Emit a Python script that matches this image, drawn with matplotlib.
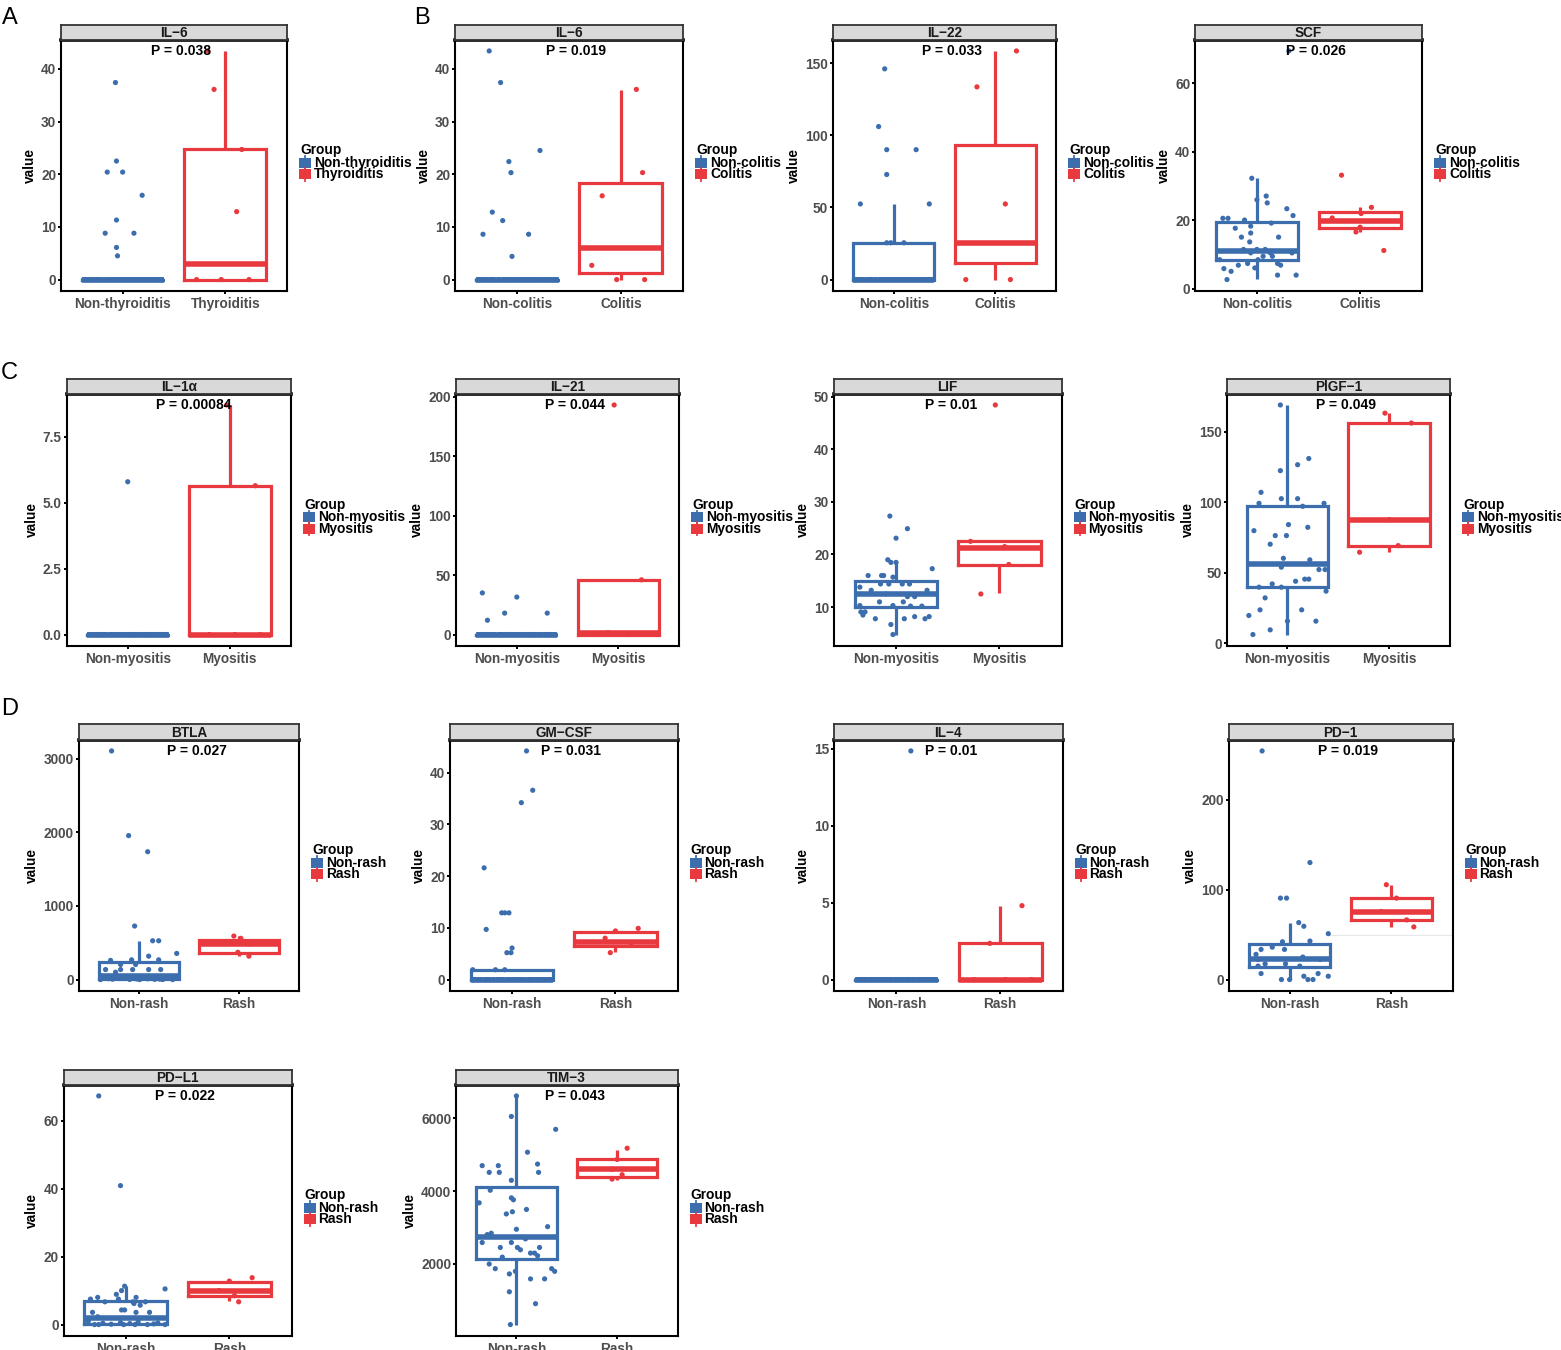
import matplotlib
matplotlib.use("Agg")
import matplotlib.pyplot as plt
from matplotlib.patches import Rectangle
from matplotlib.lines import Line2D

plt.rcParams['font.family'] = ['Liberation Sans', 'DejaVu Sans']

W, H = 1561, 1350
BLUE = "#3C6EAE"
RED = "#E8393F"
TICK_GRAY = "#4D4D4D"
STRIP_FILL = "#D9D9D9"

# ---------------- data ----------------
GROUPS_THY = ["Non-thyroiditis", "Thyroiditis"]
GROUPS_COL = ["Non-colitis", "Colitis"]
GROUPS_MYO = ["Non-myositis", "Myositis"]
GROUPS_RASH = ["Non-rash", "Rash"]

# hand-read horizontal jitter of the points sitting at zero inside collapsed boxes
ZERO_JIT = [-0.36, 0.12, -0.05, 0.31, -0.22, 0.04, 0.27, -0.14, 0.38, -0.30,
            0.09, -0.02, 0.21, -0.26, 0.16, -0.09, 0.34, -0.38, 0.01, 0.24,
            -0.18, 0.07, -0.33, 0.29, -0.11, 0.18, -0.24, 0.36, -0.06, 0.13,
            -0.29, 0.22, -0.16, 0.03, 0.32, -0.20, 0.10, -0.35, 0.26, -0.01]

# A  IL-6 (thyroiditis)
A_IL6_NON = [37.4, 22.5, 20.4, 20.4, 16.0, 11.3, 8.8, 8.8, 6.1, 4.5] + [0.0] * 30
A_IL6_NON_J = [-0.07, -0.06, -0.15, 0.00, 0.19, -0.06, -0.17, 0.11, -0.06, -0.05]
A_IL6_DIS = [43.4, 36.1, 24.7, 12.9, 0.0, 0.0, 0.0]
A_IL6_DIS_J = [-0.17, -0.11, 0.16, 0.11, -0.28, -0.04, 0.23]
A_IL6_BOX_NON = [0, 0, 0, 0, 0]          # q1, median, q3, whisker low, whisker high
A_IL6_BOX_DIS = [0, 3.0, 24.7, 0, 43.4]
A_IL6_TICKS = [0, 10, 20, 30, 40]

# B  IL-6 (colitis)
B_IL6_NON = [43.4, 37.4, 24.5, 22.4, 20.3, 12.8, 11.2, 8.6, 8.6, 4.4] + [0.0] * 30
B_IL6_NON_J = [-0.27, -0.16, 0.22, -0.08, -0.06, -0.24, -0.14, -0.33, 0.11, -0.05]
B_IL6_DIS = [36.1, 20.3, 15.9, 2.7, 0.0, 0.0]
B_IL6_DIS_J = [0.15, 0.21, -0.18, -0.28, -0.04, 0.23]
B_IL6_BOX_NON = [0, 0, 0, 0, 0]
B_IL6_BOX_DIS = [1.2, 6.0, 18.3, 0, 36.0]
B_IL6_TICKS = [0, 10, 20, 30, 40]

# B  IL-22
B_IL22_NON = [146, 106, 90, 90, 72.8, 52.4, 52.4, 25.5, 25.5, 25.5] + [0.0] * 30
B_IL22_NON_J = [-0.09, -0.15, -0.07, 0.22, -0.07, -0.33, 0.35, -0.07, -0.03, 0.10]
B_IL22_DIS = [158.4, 133.5, 52.4, 0.0, 0.0]
B_IL22_DIS_J = [0.21, -0.18, 0.10, -0.29, 0.15]
B_IL22_BOX_NON = [0, 0, 25.5, 0, 52.4]
B_IL22_BOX_DIS = [11.6, 25.5, 93.2, 0, 158.4]
B_IL22_TICKS = [0, 50, 100, 150]

# B  SCF
B_SCF_NON = [69.5, 32.3, 27.1, 26.0, 25.1, 23.4, 21.4, 20.6, 20.6, 20.1, 19.2, 18.3,
             17.7, 16.3, 15.1, 15.1, 13.7, 11.5, 11.5, 11.5, 10.5, 10.5, 10.5, 9.5,
             9.5, 8.5, 8.5, 7.4, 7.4, 6.9, 6.9, 6.1, 5.9, 5.1, 4.0, 4.0, 2.7]
B_SCF_NON_J = [0.31, -0.05, 0.09, 0.00, 0.10, 0.29, 0.35, -0.33, -0.28, -0.12, 0.14, -0.06,
               -0.21, -0.06, -0.15, 0.21, -0.07, -0.13, 0.00, 0.08, -0.06, 0.13, 0.34, 0.06,
               0.15, -0.36, 0.01, -0.09, 0.20, -0.18, 0.23, -0.02, -0.32, -0.25, 0.20, 0.38, -0.29]
B_SCF_DIS = [33.2, 23.8, 22.0, 20.7, 18.0, 16.6, 11.2]
B_SCF_DIS_J = [-0.18, 0.11, 0.01, -0.27, 0.00, -0.04, 0.23]
B_SCF_BOX_NON = [8.3, 11.0, 19.4, 2.9, 32.3]
B_SCF_BOX_DIS = [17.7, 19.8, 22.4, 16.6, 23.8]
B_SCF_TICKS = [0, 20, 40, 60]

# C  IL-1a
C_IL1A_NON = [5.79] + [0.0] * 35
C_IL1A_NON_J = [0.0]
C_IL1A_DIS = [8.7, 5.64, 0.0, 0.0, 0.0]
C_IL1A_DIS_J = [-0.03, 0.25, -0.20, 0.05, 0.30]
C_IL1A_BOX_NON = [0, 0, 0, 0, 0]
C_IL1A_BOX_DIS = [0, 0, 5.64, 0, 8.7]
C_IL1A_TICKS = [0.0, 2.5, 5.0, 7.5]
C_IL1A_TICKLABELS = ["0.0", "2.5", "5.0", "7.5"]

# C  IL-21
C_IL21_NON = [35.0, 31.5, 18.0, 18.0, 12.0] + [0.0] * 35
C_IL21_NON_J = [-0.34, 0.00, -0.12, 0.30, -0.29]
C_IL21_DIS = [193.0, 46.0, 1.5, 0.0, 0.0]
C_IL21_DIS_J = [-0.04, 0.23, -0.10, 0.10, -0.25]
C_IL21_BOX_NON = [0, 0, 0, 0, 0]
C_IL21_BOX_DIS = [0, 1.5, 46.0, 0, 46.0]
C_IL21_TICKS = [0, 50, 100, 150, 200]

# C  LIF
C_LIF_NON = [27.3, 24.9, 23.1, 19.0, 18.5, 18.5, 17.3, 16.0, 16.0, 16.0, 15.7, 14.4,
             14.4, 14.4, 14.4, 13.8, 13.2, 13.2, 12.5, 12.0, 12.0, 11.0, 11.0, 10.3,
             10.3, 10.2, 10.2, 9.1, 9.1, 8.5, 8.2, 8.2, 7.8, 7.8, 7.8, 6.7, 4.8]
C_LIF_NON_J = [-0.06, 0.11, 0.00, -0.08, -0.05, 0.00, 0.35, -0.27, -0.14, -0.12, -0.03, -0.15,
               -0.07, 0.06, 0.13, -0.35, -0.24, 0.30, -0.10, 0.11, 0.18, -0.16, 0.07, -0.35,
               -0.03, 0.14, 0.25, -0.34, -0.30, -0.32, 0.18, 0.32, -0.20, 0.08, 0.28, -0.05, -0.03]
C_LIF_DIS = [48.4, 22.5, 21.5, 18.1, 12.5]
C_LIF_DIS_J = [-0.04, -0.28, 0.05, 0.09, -0.18]
C_LIF_BOX_NON = [10.0, 12.5, 14.9, 4.8, 18.6]
C_LIF_BOX_DIS = [18.1, 21.3, 22.6, 12.7, 22.6]
C_LIF_TICKS = [10, 20, 30, 40, 50]

# C  PlGF-1
C_PLGF_NON = [169, 131, 126.6, 122.4, 107, 102.5, 102.5, 99.2, 99.2, 97.1, 84.1, 82.2,
              79.8, 76.3, 76.3, 70.2, 60.2, 59.1, 53.9, 52.2, 52.2, 45.4, 45.4, 43.9,
              42.0, 39.7, 39.7, 36.9, 32.1, 23.6, 23.6, 19.6, 15.6, 15.6, 9.4, 6.1]
C_PLGF_NON_J = [-0.07, 0.21, 0.10, -0.07, -0.26, -0.06, 0.10, -0.28, 0.36, 0.15, 0.01, 0.20,
                -0.33, -0.12, -0.01, -0.17, -0.04, 0.22, -0.06, 0.31, 0.37, 0.17, 0.21, 0.08,
                -0.15, -0.28, -0.06, 0.38, -0.22, -0.27, 0.14, -0.38, 0.00, 0.28, -0.17, -0.34]
C_PLGF_DIS = [163.2, 156.2, 87.6, 69.2, 64.5]
C_PLGF_DIS_J = [-0.04, 0.22, 0.00, 0.09, -0.29]
C_PLGF_BOX_NON = [39.7, 55.8, 97.6, 6.1, 169]
C_PLGF_BOX_DIS = [69.2, 87.6, 156.2, 65.0, 163.2]
C_PLGF_TICKS = [0, 50, 100, 150]

# D  BTLA
D_BTLA_NON = [3105, 1955, 1736, 727, 527, 527, 355, 318, 268, 268, 260, 205, 205,
              136, 136, 136, 136, 136, 100,
              45, 40, 35, 30, 28, 25, 20, 18, 15, 12, 10, 8, 6, 5, 3, 2, 0, 0, 0, 0]
D_BTLA_NON_J = [-0.27, -0.10, 0.09, -0.04, 0.14, 0.20, 0.38, 0.10, 0.20, -0.07, -0.28, -0.18, -0.03,
                -0.33, -0.18, -0.06, 0.10, 0.22, -0.23,
                -0.36, 0.12, -0.05, 0.31, -0.22, 0.04, 0.27, -0.14, 0.38, -0.30, 0.09, -0.02,
                0.21, -0.26, 0.16, -0.09, 0.34, -0.38, 0.01, 0.24]
D_BTLA_DIS = [591, 560, 486, 370, 318]
D_BTLA_DIS_J = [-0.05, 0.02, 0.10, -0.01, 0.10]
D_BTLA_BOX_NON = [10, 50, 236, 0, 527]
D_BTLA_BOX_DIS = [355, 486, 532, 318, 591]
D_BTLA_TICKS = [0, 1000, 2000, 3000]

# D  GM-CSF
D_GMCSF_NON = [44.2, 36.6, 34.2, 21.6, 12.9, 12.9, 12.9, 9.7, 6.1, 5.2, 5.2, 1.9, 1.9, 1.9] + [0.0] * 28
D_GMCSF_NON_J = [0.14, 0.20, 0.09, -0.27, -0.10, -0.07, -0.03, -0.25, 0.00, -0.05, -0.01, -0.38, -0.16, -0.07]
D_GMCSF_DIS = [9.9, 9.4, 8.0, 7.0, 5.2]
D_GMCSF_DIS_J = [0.22, 0.00, -0.10, 0.15, -0.05]
D_GMCSF_BOX_NON = [0, 0, 1.9, 0, 1.9]
D_GMCSF_BOX_DIS = [6.5, 7.3, 9.1, 5.4, 9.7]
D_GMCSF_TICKS = [0, 10, 20, 30, 40]

# D  IL-4
D_IL4_NON = [14.85] + [0.0] * 40
D_IL4_NON_J = [0.14]
D_IL4_DIS = [4.8, 2.35, 0.0, 0.0, 0.0]
D_IL4_DIS_J = [0.21, -0.10, -0.25, 0.05, 0.30]
D_IL4_BOX_NON = [0, 0, 0, 0, 0]
D_IL4_BOX_DIS = [0, 0, 2.35, 0, 4.8]
D_IL4_TICKS = [0, 5, 10, 15]

# D  PD-1
D_PD1_NON = [254, 130, 90.5, 90.5, 63.3, 59.2, 51, 42.8, 42, 36, 33.5, 33.5, 28, 25,
             22.3, 22.3, 17.5, 17.5, 15, 15, 6.7, 6.7, 3.7, 3.7, 0, 0, 0, 0]
D_PD1_NON_J = [-0.27, 0.20, -0.09, -0.03, 0.09, 0.14, 0.38, 0.20, -0.07, -0.17, -0.28, -0.05, -0.33, 0.13,
               -0.31, 0.30, -0.24, -0.04, -0.31, 0.10, -0.28, 0.28, 0.14, 0.38, -0.08, 0.00, 0.18, 0.23]
D_PD1_DIS = [105.4, 90.5, 75.6, 66.3, 58.5]
D_PD1_DIS_J = [-0.05, 0.05, -0.10, 0.15, 0.22]
D_PD1_BOX_NON = [13.8, 22.3, 39.0, 0, 63.3]
D_PD1_BOX_DIS = [66.3, 75.6, 90.5, 58.5, 105.4]
D_PD1_TICKS = [0, 100, 200]
D_PD1_FAINT = 49.0   # faint horizontal rule visible in the panel

# D  PD-L1
D_PDL1_NON = [67.3, 40.9, 11.3, 10.5, 10.0, 8.9, 8.0, 8.0, 7.5, 7.5, 6.7, 6.7, 6.7, 6.2,
              5.7, 4.3, 4.3, 3.6, 3.6, 3.6, 2.3,
              1.0, 0.8, 0.6, 0.5, 0.4, 0.3, 0.2, 0.1, 0, 0, 0, 0, 0, 0]
D_PDL1_NON_J = [-0.26, -0.05, -0.01, 0.38, -0.04, -0.09, -0.27, 0.10, -0.34, -0.07, -0.20, 0.07, 0.19, 0.08,
                0.14, -0.04, -0.01, -0.32, 0.10, 0.23, -0.27,
                -0.36, 0.12, -0.05, 0.31, -0.22, 0.04, 0.27, -0.14, 0.38, -0.30, 0.09, -0.02, 0.21, -0.26]
D_PDL1_DIS = [13.8, 12.8, 10.0, 8.5, 6.7]
D_PDL1_DIS_J = [0.22, 0.00, -0.10, 0.05, 0.09]
D_PDL1_BOX_NON = [0.2, 2.0, 7.0, 0, 11.3]
D_PDL1_BOX_DIS = [8.5, 10.0, 12.4, 6.9, 13.3]
D_PDL1_TICKS = [0, 20, 40, 60]

# D  TIM-3
D_TIM3_NON = [6620, 6055, 5700, 5070, 4743, 4700, 4700, 4515, 4515, 4515, 4296, 4023,
              3813, 3760, 3676, 3494, 3430, 3370, 3020, 2948, 2838, 2800, 2683, 2583,
              2583, 2446, 2446, 2446, 2383, 2292, 2292, 2219, 2180, 1991, 1863, 1863,
              1790, 1790, 1718, 1581, 1581, 1226, 898, 323]
D_TIM3_NON_J = [0.00, -0.05, 0.39, 0.11, 0.21, -0.34, -0.18, -0.27, -0.17, 0.22, -0.05, -0.26,
                -0.05, -0.03, -0.37, 0.10, -0.04, -0.10, 0.31, 0.00, -0.25, -0.29, 0.09, -0.34,
                -0.05, -0.16, 0.23, 0.01, 0.04, 0.14, 0.18, 0.21, -0.14, -0.27, -0.21, 0.35,
                0.38, -0.01, -0.07, 0.14, 0.28, -0.07, 0.19, -0.06]
D_TIM3_DIS = [5180, 4870, 4600, 4450, 4330]
D_TIM3_DIS_J = [0.10, 0.00, -0.05, 0.05, -0.05]
D_TIM3_BOX_NON = [2128, 2747, 4114, 323, 6620]
D_TIM3_BOX_DIS = [4387, 4597, 4870, 4314, 5143]
D_TIM3_TICKS = [2000, 4000, 6000]

PANELS = [
    ("IL\u22126", GROUPS_THY, "P = 0.038", A_IL6_NON, A_IL6_NON_J, A_IL6_DIS, A_IL6_DIS_J, A_IL6_BOX_NON, A_IL6_BOX_DIS, A_IL6_TICKS, None, None),
    ("IL\u22126", GROUPS_COL, "P = 0.019", B_IL6_NON, B_IL6_NON_J, B_IL6_DIS, B_IL6_DIS_J, B_IL6_BOX_NON, B_IL6_BOX_DIS, B_IL6_TICKS, None, None),
    ("IL\u221222", GROUPS_COL, "P = 0.033", B_IL22_NON, B_IL22_NON_J, B_IL22_DIS, B_IL22_DIS_J, B_IL22_BOX_NON, B_IL22_BOX_DIS, B_IL22_TICKS, None, None),
    ("SCF", GROUPS_COL, "P = 0.026", B_SCF_NON, B_SCF_NON_J, B_SCF_DIS, B_SCF_DIS_J, B_SCF_BOX_NON, B_SCF_BOX_DIS, B_SCF_TICKS, None, None),
    ("IL\u22121\u03b1", GROUPS_MYO, "P = 0.00084", C_IL1A_NON, C_IL1A_NON_J, C_IL1A_DIS, C_IL1A_DIS_J, C_IL1A_BOX_NON, C_IL1A_BOX_DIS, C_IL1A_TICKS, C_IL1A_TICKLABELS, None),
    ("IL\u221221", GROUPS_MYO, "P = 0.044", C_IL21_NON, C_IL21_NON_J, C_IL21_DIS, C_IL21_DIS_J, C_IL21_BOX_NON, C_IL21_BOX_DIS, C_IL21_TICKS, None, None),
    ("LIF", GROUPS_MYO, "P = 0.01", C_LIF_NON, C_LIF_NON_J, C_LIF_DIS, C_LIF_DIS_J, C_LIF_BOX_NON, C_LIF_BOX_DIS, C_LIF_TICKS, None, None),
    ("PlGF\u22121", GROUPS_MYO, "P = 0.049", C_PLGF_NON, C_PLGF_NON_J, C_PLGF_DIS, C_PLGF_DIS_J, C_PLGF_BOX_NON, C_PLGF_BOX_DIS, C_PLGF_TICKS, None, None),
    ("BTLA", GROUPS_RASH, "P = 0.027", D_BTLA_NON, D_BTLA_NON_J, D_BTLA_DIS, D_BTLA_DIS_J, D_BTLA_BOX_NON, D_BTLA_BOX_DIS, D_BTLA_TICKS, None, None),
    ("GM\u2212CSF", GROUPS_RASH, "P = 0.031", D_GMCSF_NON, D_GMCSF_NON_J, D_GMCSF_DIS, D_GMCSF_DIS_J, D_GMCSF_BOX_NON, D_GMCSF_BOX_DIS, D_GMCSF_TICKS, None, None),
    ("IL\u22124", GROUPS_RASH, "P = 0.01", D_IL4_NON, D_IL4_NON_J, D_IL4_DIS, D_IL4_DIS_J, D_IL4_BOX_NON, D_IL4_BOX_DIS, D_IL4_TICKS, None, None),
    ("PD\u22121", GROUPS_RASH, "P = 0.019", D_PD1_NON, D_PD1_NON_J, D_PD1_DIS, D_PD1_DIS_J, D_PD1_BOX_NON, D_PD1_BOX_DIS, D_PD1_TICKS, None, D_PD1_FAINT),
    ("PD\u2212L1", GROUPS_RASH, "P = 0.022", D_PDL1_NON, D_PDL1_NON_J, D_PDL1_DIS, D_PDL1_DIS_J, D_PDL1_BOX_NON, D_PDL1_BOX_DIS, D_PDL1_TICKS, None, None),
    ("TIM\u22123", GROUPS_RASH, "P = 0.043", D_TIM3_NON, D_TIM3_NON_J, D_TIM3_DIS, D_TIM3_DIS_J, D_TIM3_BOX_NON, D_TIM3_BOX_DIS, D_TIM3_TICKS, None, None),
]

# layout in pixels: x_left, x_right, strip_top, plot_top, plot_bottom
LAYOUT = [
    (61, 287, 25, 39.5, 291),
    (455, 683, 25, 39.5, 291),
    (833, 1056, 25, 39.5, 291),
    (1195, 1422, 25, 39.5, 291),
    (66.5, 291, 379.3, 393.5, 646),
    (456, 679, 379.3, 393.5, 646),
    (834, 1061.5, 379.3, 393.5, 646),
    (1226.5, 1450, 379.3, 393.5, 646),
    (78.5, 299, 724, 739.5, 991),
    (450, 677.5, 724, 739.5, 991),
    (834, 1062.5, 724, 739.5, 991),
    (1228.5, 1452.5, 724, 739.5, 991),
    (63.5, 291.5, 1070, 1084.5, 1336),
    (456, 677.5, 1070, 1084.5, 1336),
]

LETTERS = [("A", 2, 24), ("B", 414, 24), ("C", 1, 379), ("D", 1, 715)]

fig = plt.figure(figsize=(W / 100, H / 100), dpi=100)


def fx(x):
    return x / W


def fy(y):
    return 1 - y / H


def draw_box(ax, pos, stats, color):
    q1, med, q3, lo, hi = stats
    st = [dict(med=med, q1=q1, q3=q3, whislo=lo, whishi=hi, fliers=[])]
    ax.bxp(st, positions=[pos], widths=0.8, showfliers=False, showcaps=False,
           manage_ticks=False,
           boxprops=dict(color=color, linewidth=2.3, solid_joinstyle='miter'),
           whiskerprops=dict(color=color, linewidth=2.3, solid_capstyle='butt'),
           medianprops=dict(color=color, linewidth=4.0, solid_capstyle='butt'))


for spec, lay in zip(PANELS, LAYOUT):
    title, groups, ptxt, non, non_j, dis, dis_j, bnon, bdis, ticks, ticklabels, faint = spec
    x0, x1, st, pt, pb = lay
    ax = fig.add_axes([fx(x0), fy(pb), (x1 - x0) / W, (pb - pt) / H])
    sx = fig.add_axes([fx(x0), fy(pt), (x1 - x0) / W, (pt - st) / H])

    # strip
    sx.set_facecolor(STRIP_FILL)
    sx.set_xticks([])
    sx.set_yticks([])
    for s in sx.spines.values():
        s.set_linewidth(1.3)
        s.set_color("#333333")
    sx.text(0.5, 0.45, title, transform=sx.transAxes, ha='center', va='center',
            fontsize=9.8, fontweight='bold', color='#1A1A1A')

    if faint is not None:
        ax.plot([1.4, 2.6], [faint, faint], color='#E4E7EC', lw=0.8, zorder=1)

    # boxes
    draw_box(ax, 1, bnon, BLUE)
    draw_box(ax, 2, bdis, RED)

    # jittered points
    nj = list(non_j) + ZERO_JIT[: len(non) - len(non_j)]
    ax.scatter([1 + j for j in nj], non, s=14, color=BLUE, edgecolors='none', zorder=4)
    ax.scatter([2 + j for j in dis_j], dis, s=14, color=RED, edgecolors='none', zorder=4)

    allv = list(non) + list(dis) + list(bnon) + list(bdis)
    lo, hi = min(allv), max(allv)
    r = hi - lo
    ax.set_ylim(lo - 0.05 * r, hi + 0.05 * r)
    ax.set_xlim(0.4, 2.6)

    ax.text(1.28, hi, ptxt, ha='left', va='center', fontsize=10, fontweight='bold',
            color='black', zorder=5)

    ax.set_xticks([1, 2])
    ax.set_xticklabels(groups)
    ax.set_yticks(ticks)
    if ticklabels is not None:
        ax.set_yticklabels(ticklabels)
    ax.tick_params(axis='both', length=2.5, width=1.4, color='black', labelcolor=TICK_GRAY,
                   labelsize=9.8)
    ax.tick_params(axis='y', pad=1)
    ax.tick_params(axis='x', pad=1.5, labelsize=9.8)
    for lab in ax.get_xticklabels() + ax.get_yticklabels():
        lab.set_fontweight('bold')
    ax.set_ylabel('value', fontsize=9.8, fontweight='bold', labelpad=3)
    for name, s in ax.spines.items():
        s.set_color('black')
        s.set_linewidth(2.6 if name == 'top' else 1.5)

    # legend
    yc = (pt + pb) / 2
    fig.text(fx(x1 + 13), fy(yc - 15), "Group", ha='left', va='center',
             fontsize=9.9, fontweight='bold', color='black')
    for i, (lab, col) in enumerate(zip(groups, [BLUE, RED])):
        yy = yc - 2.5 + i * 11.5
        fig.patches.append(Rectangle((fx(x1 + 12), fy(yy + 5)), 12 / W, 10 / H,
                                     transform=fig.transFigure, facecolor=col,
                                     edgecolor='none'))
        fig.lines.append(Line2D([fx(x1 + 18)] * 2, [fy(yy - 6.5), fy(yy + 6.5)],
                                transform=fig.transFigure, color=col, lw=1.3))
        fig.text(fx(x1 + 27), fy(yy), lab, ha='left', va='center',
                 fontsize=9.9, fontweight='bold', color='black')

for letter, lx, ly in LETTERS:
    fig.text(fx(lx), fy(ly), letter, ha='left', va='baseline', fontsize=17, color='black')

fig.savefig("out.png", dpi=100)
